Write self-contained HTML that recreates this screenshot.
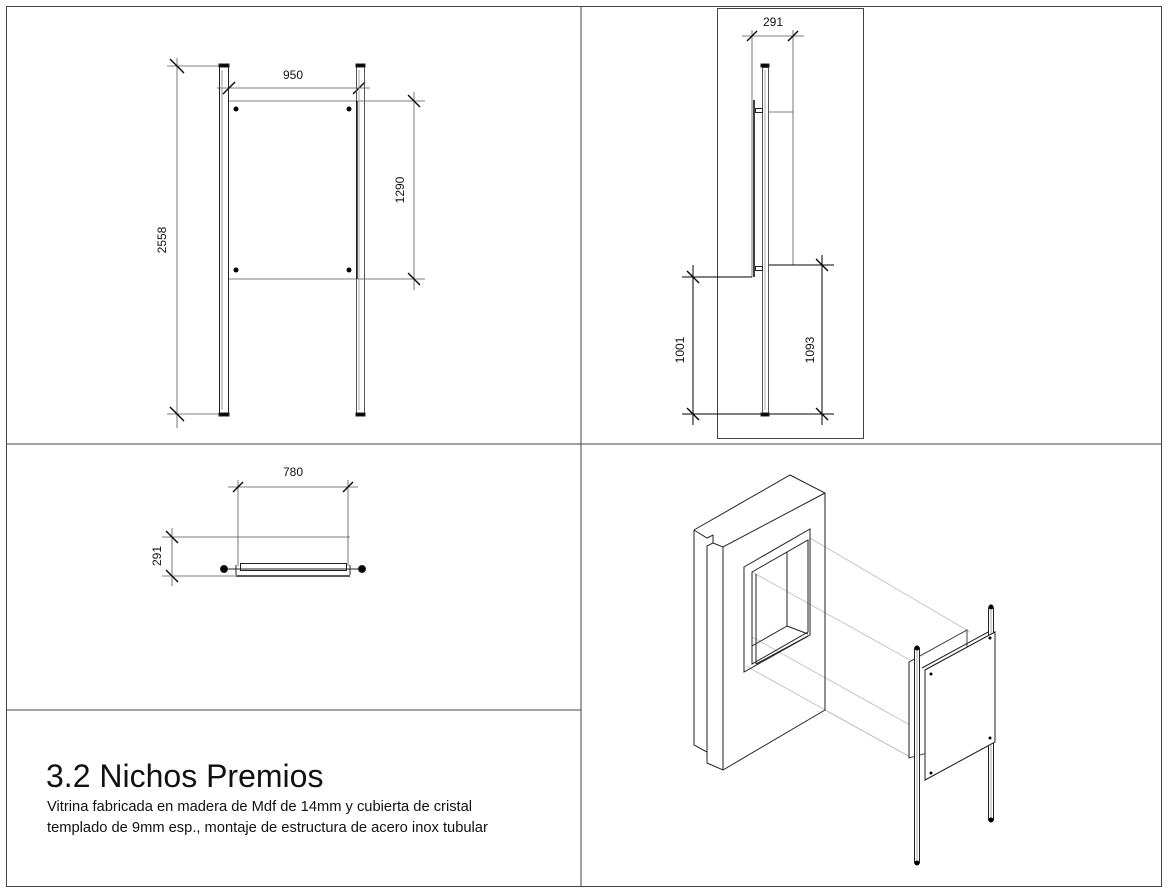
<!DOCTYPE html>
<html><head><meta charset="utf-8"><style>
html,body{margin:0;padding:0;background:#fff;}
svg{display:block;font-family:"Liberation Sans",sans-serif;}
</style></head><body>
<svg width="1167" height="895" viewBox="0 0 1167 895" xmlns="http://www.w3.org/2000/svg">
<g fill="none" stroke="#222" stroke-width="1">
<rect x="6.5" y="6.5" width="1155" height="880" stroke="#444"/>
<line x1="581" y1="6" x2="581" y2="887" stroke="#444"/>
<line x1="6" y1="444" x2="1161" y2="444" stroke="#444"/>
<line x1="6" y1="710" x2="581" y2="710" stroke="#444"/>

<g stroke="#555" stroke-width="0.8">
<line x1="167" y1="66" x2="229" y2="66"/>
<line x1="167" y1="414" x2="229" y2="414"/>
<line x1="177" y1="58" x2="177" y2="428"/>
<line x1="217" y1="88" x2="370" y2="88"/>
<line x1="228" y1="101" x2="425" y2="101"/>
<line x1="228" y1="279" x2="425" y2="279"/>
<line x1="414" y1="92" x2="414" y2="290"/>
</g>
<g stroke="#000" stroke-width="1.3">
<line x1="170" y1="59" x2="184" y2="73"/><line x1="170" y1="407" x2="184" y2="421"/>
<line x1="223" y1="94" x2="235" y2="82"/><line x1="353" y1="94" x2="365" y2="82"/>
<line x1="408" y1="95" x2="420" y2="107"/><line x1="408" y1="273" x2="420" y2="285"/>
</g>
<rect x="219.5" y="66.5" width="9" height="348"/>
<line x1="222" y1="70" x2="222" y2="410" stroke="#999"/>
<rect x="356.5" y="66.5" width="8" height="348" stroke="#555"/>
<line x1="359" y1="70" x2="359" y2="410" stroke="#aaa"/>
<line x1="357" y1="101" x2="357" y2="279" stroke="#000" stroke-width="1.3"/>
<rect x="219" y="64" width="10" height="3" fill="#000"/><rect x="219" y="413" width="10" height="3" fill="#000"/>
<rect x="356" y="64" width="9" height="3" fill="#000"/><rect x="356" y="413" width="9" height="3" fill="#000"/>
<g fill="#000" stroke="none">
<circle cx="236" cy="109" r="2.5"/><circle cx="349" cy="109" r="2.5"/>
<circle cx="236" cy="270" r="2.5"/><circle cx="349" cy="270" r="2.5"/>
</g>

<rect x="717.5" y="8.5" width="146" height="430" stroke="#444"/>
<g stroke="#555" stroke-width="0.8">
<line x1="742" y1="36" x2="804" y2="36"/>
<line x1="752" y1="30" x2="752" y2="277"/>
<line x1="793" y1="30" x2="793" y2="265"/>
<line x1="768" y1="112" x2="793" y2="112"/>
</g>
<g stroke="#000" stroke-width="1">
<line x1="768" y1="265" x2="834" y2="265"/>
<line x1="682" y1="277" x2="752" y2="277"/>
<line x1="682" y1="414" x2="834" y2="414"/>
<line x1="693" y1="265" x2="693" y2="425"/>
<line x1="822" y1="255" x2="822" y2="425"/>
</g>
<g stroke="#000" stroke-width="1.3">
<line x1="747" y1="41" x2="757" y2="31"/><line x1="788" y1="41" x2="798" y2="31"/>
<line x1="687" y1="271" x2="699" y2="283"/><line x1="687" y1="408" x2="699" y2="420"/>
<line x1="816" y1="259" x2="828" y2="271"/><line x1="816" y1="408" x2="828" y2="420"/>
</g>
<rect x="762.5" y="67.5" width="6" height="346" stroke="#555"/>
<line x1="765" y1="70" x2="765" y2="410" stroke="#aaa"/>
<rect x="761" y="64" width="8" height="3" fill="#000"/><rect x="761" y="413" width="8" height="3" fill="#000"/>
<line x1="754" y1="100" x2="754" y2="277" stroke="#000" stroke-width="1.5"/>
<rect x="755.5" y="108.5" width="7" height="4"/><rect x="755.5" y="266.5" width="7" height="4"/>

<g stroke="#555" stroke-width="0.8">
<line x1="228" y1="487" x2="358" y2="487"/>
<line x1="238" y1="480" x2="238" y2="566"/>
<line x1="348" y1="480" x2="348" y2="566"/>
<line x1="162" y1="537" x2="350" y2="537"/>
<line x1="162" y1="576" x2="240" y2="576"/>
<line x1="172" y1="528" x2="172" y2="586"/>
</g>
<g stroke="#000" stroke-width="1.3">
<line x1="233" y1="492" x2="243" y2="482"/><line x1="343" y1="492" x2="353" y2="482"/>
<line x1="166" y1="531" x2="178" y2="543"/><line x1="166" y1="570" x2="178" y2="582"/>
</g>
<line x1="224" y1="569" x2="362" y2="569"/>
<rect x="240.5" y="563.5" width="106" height="7"/>
<line x1="236" y1="576" x2="350" y2="576" stroke-width="1.5"/>
<line x1="236" y1="565" x2="236" y2="575"/><line x1="350" y1="565" x2="350" y2="575"/>
<circle cx="224" cy="569" r="3.5" fill="#000"/><circle cx="362" cy="569" r="3.5" fill="#000"/>

<g stroke="#bbb" stroke-width="0.8">
<line x1="810" y1="538" x2="970" y2="632"/>
<line x1="752" y1="572" x2="910" y2="660"/>
<line x1="752" y1="637" x2="910" y2="725"/>
<line x1="746" y1="666" x2="910" y2="757"/>
<line x1="825" y1="710" x2="912" y2="758"/>
</g>
<polyline points="694,530 790,475 825,493 825,710 723,770 707,763 707,752 694,745 694,530"/>
<polyline points="694,530 707,538 713,535 713,543 707,546 707,752"/>
<polyline points="713,543 723,547 825,493"/>
<line x1="723" y1="547" x2="723" y2="770"/>
<polygon points="744,567 810,529 810,635 744,672"/>
<polygon points="752,572 808,540 808,632 752,664"/>
<polyline points="752,664 752,572"/>
<polyline points="752,646 787,626 787,552"/>
<line x1="787" y1="626" x2="808" y2="634"/>
<line x1="756" y1="574" x2="756" y2="664"/><line x1="756" y1="664" x2="808" y2="636"/>
<polygon points="909,662 967,630 967,742 909,758" stroke="#444"/>
<line x1="909" y1="662" x2="909" y2="758"/>
<polygon points="925,670 995,632 995,742 925,780" fill="#fff"/>
<line x1="922" y1="668" x2="990" y2="631"/>
<rect x="914.5" y="648" width="5" height="215" fill="#fff"/>
<line x1="917" y1="650" x2="917" y2="860" stroke="#aaa"/>
<rect x="988.5" y="608" width="5" height="212" fill="#fff"/>
<line x1="991" y1="610" x2="991" y2="818" stroke="#aaa"/>
<polygon points="925,670 995,632 995,742 925,780" fill="#fff"/>
<g fill="#000" stroke="none">
<circle cx="917" cy="648" r="2.5"/><circle cx="917" cy="863" r="2.5"/>
<circle cx="991" cy="607" r="2.5"/><circle cx="991" cy="820" r="2.5"/>
<circle cx="931" cy="674" r="1.5"/><circle cx="990" cy="638" r="1.5"/>
<circle cx="931" cy="773" r="1.5"/><circle cx="990" cy="738" r="1.5"/>
</g>
</g>

<g font-size="12" fill="#111">
<text x="293" y="79" text-anchor="middle">950</text>
<text transform="translate(166,240) rotate(-90)" text-anchor="middle">2558</text>
<text transform="translate(404,190) rotate(-90)" text-anchor="middle">1290</text>
<text x="773" y="26" text-anchor="middle">291</text>
<text transform="translate(684,350) rotate(-90)" text-anchor="middle">1001</text>
<text transform="translate(814,350) rotate(-90)" text-anchor="middle">1093</text>
<text x="293" y="476" text-anchor="middle">780</text>
<text transform="translate(161,556) rotate(-90)" text-anchor="middle">291</text>
</g>
<text x="46" y="787" font-size="32" fill="#111">3.2 Nichos Premios</text>
<text x="47" y="811" font-size="14.7" fill="#111">Vitrina fabricada en madera de Mdf de 14mm y cubierta de cristal</text>
<text x="47" y="832" font-size="14.7" fill="#111">templado de 9mm esp., montaje de estructura de acero inox tubular</text>
</svg>
</body></html>
